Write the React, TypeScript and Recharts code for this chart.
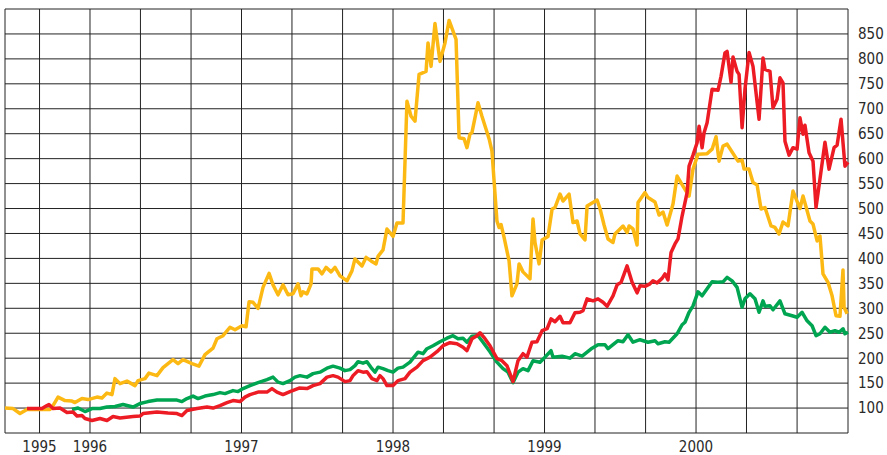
import { CartesianGrid, Line, LineChart, XAxis, YAxis } from 'recharts';

// x = decimal year, y = index value
const goldYears = [
  1995.439, 1995.492, 1995.538, 1995.584, 1995.736, 1995.756, 1995.789, 1995.835, 1995.881, 1995.901,
  1995.947, 1995.987, 1996.046, 1996.079, 1996.112, 1996.145, 1996.165, 1996.198, 1996.244, 1996.297,
  1996.317, 1996.363, 1996.389, 1996.442, 1996.482, 1996.548, 1996.581, 1996.614, 1996.673, 1996.719,
  1996.759, 1996.812, 1996.838, 1996.878, 1996.924, 1996.957, 1997.003, 1997.03, 1997.05, 1997.076,
  1997.109, 1997.142, 1997.182, 1997.208, 1997.241, 1997.274, 1997.307, 1997.34, 1997.373, 1997.393,
  1997.406, 1997.432, 1997.459, 1997.465, 1997.505, 1997.531, 1997.558, 1997.591, 1997.617, 1997.65,
  1997.696, 1997.729, 1997.749, 1997.795, 1997.822, 1997.855, 1997.888, 1997.901, 1997.934, 1997.96,
  1998.0, 1998.026, 1998.066, 1998.092, 1998.119, 1998.145, 1998.172, 1998.218, 1998.231, 1998.251,
  1998.277, 1998.31, 1998.343, 1998.37, 1998.416, 1998.436, 1998.469, 1998.488, 1998.508, 1998.521,
  1998.561, 1998.587, 1998.634, 1998.653, 1998.686, 1998.7, 1998.713, 1998.733, 1998.766, 1998.785,
  1998.818, 1998.832, 1998.858, 1998.904, 1998.924, 1998.937, 1998.964, 1998.984, 1999.023, 1999.05,
  1999.069, 1999.102, 1999.122, 1999.162, 1999.188, 1999.215, 1999.234, 1999.267, 1999.281, 1999.347,
  1999.366, 1999.393, 1999.419, 1999.452, 1999.465, 1999.518, 1999.545, 1999.558, 1999.584, 1999.611,
  1999.617, 1999.663, 1999.683, 1999.729, 1999.756, 1999.782, 1999.809, 1999.848, 1999.875, 1999.914,
  1999.954, 1999.98, 2000.013, 2000.073, 2000.106, 2000.132, 2000.152, 2000.178, 2000.205, 2000.277,
  2000.304, 2000.317, 2000.35, 2000.376, 2000.403, 2000.429, 2000.455, 2000.495, 2000.521, 2000.548,
  2000.574, 2000.607, 2000.64, 2000.686, 2000.706, 2000.752, 2000.772, 2000.799, 2000.818, 2000.838,
  2000.871, 2000.898, 2000.924, 2000.95, 2000.97, 2000.977, 2000.997,
];
const goldValues = [
  100, 99, 89, 97, 97, 105, 122, 115, 114, 111,
  119, 117, 122, 120, 130, 127, 159, 149, 154, 145,
  155, 159, 170, 165, 181, 197, 189, 197, 189, 184,
  207, 220, 239, 245, 262, 257, 265, 263, 313, 312,
  300, 342, 370, 347, 327, 347, 327, 329, 349, 325,
  333, 329, 349, 379, 379, 369, 382, 373, 382, 365,
  355, 375, 399, 385, 402, 395, 389, 404, 417, 459,
  444, 471, 471, 715, 685, 675, 769, 775, 832, 785,
  871, 795, 832, 877, 839, 642, 640, 622, 649, 652,
  712, 685, 640, 615, 475, 462, 468, 442, 395, 325,
  349, 389, 373, 359, 479, 432, 389, 437, 444, 499,
  502, 529, 515, 529, 472, 475, 449, 437, 505, 517,
  500, 467, 439, 432, 449, 465, 452, 465, 459, 427,
  512, 532, 522, 513, 487, 493, 467, 509, 565, 545,
  525, 579, 609, 610, 619, 644, 595, 625, 629, 595,
  597, 579, 579, 552, 547, 499, 502, 465, 462, 449,
  473, 465, 535, 500, 525, 475, 469, 435, 445, 369,
  352, 325, 285, 284, 377, 302, 289,
];

const redYears = [
  1995.584, 1995.683, 1995.716, 1995.729, 1995.756, 1995.802, 1995.848, 1995.888, 1995.914, 1995.947,
  1995.967, 1996.013, 1996.066, 1996.112, 1996.152, 1996.198, 1996.284, 1996.33, 1996.35, 1996.442,
  1996.515, 1996.574, 1996.607, 1996.64, 1996.706, 1996.772, 1996.812, 1996.858, 1996.904, 1996.944,
  1996.99, 1997.023, 1997.056, 1997.109, 1997.168, 1997.201, 1997.234, 1997.274, 1997.32, 1997.38,
  1997.432, 1997.472, 1997.518, 1997.564, 1997.604, 1997.637, 1997.683, 1997.716, 1997.736, 1997.769,
  1997.802, 1997.828, 1997.861, 1997.894, 1997.914, 1997.934, 1997.96, 1998.0, 1998.033, 1998.079,
  1998.112, 1998.158, 1998.198, 1998.244, 1998.29, 1998.33, 1998.376, 1998.422, 1998.462, 1998.488,
  1998.521, 1998.554, 1998.574, 1998.607, 1998.64, 1998.686, 1998.719, 1998.752, 1998.792, 1998.825,
  1998.858, 1998.884, 1998.917, 1998.95, 1998.984, 1999.017, 1999.043, 1999.069, 1999.102, 1999.122,
  1999.168, 1999.201, 1999.234, 1999.254, 1999.281, 1999.32, 1999.353, 1999.386, 1999.413, 1999.452,
  1999.479, 1999.505, 1999.545, 1999.578, 1999.611, 1999.63, 1999.663, 1999.696, 1999.716, 1999.743,
  1999.776, 1999.795, 1999.815, 1999.835, 1999.861, 1999.881, 1999.908, 1999.941, 1999.954, 1999.98,
  2000.007, 2000.02, 2000.04, 2000.053, 2000.073, 2000.106, 2000.145, 2000.165, 2000.191, 2000.205,
  2000.231, 2000.244, 2000.271, 2000.284, 2000.304, 2000.323, 2000.35, 2000.376, 2000.416, 2000.442,
  2000.455, 2000.488, 2000.508, 2000.535, 2000.554, 2000.574, 2000.587, 2000.614, 2000.64, 2000.667,
  2000.686, 2000.706, 2000.719, 2000.746, 2000.772, 2000.792, 2000.818, 2000.851, 2000.878, 2000.911,
  2000.931, 2000.957, 2000.983, 2001.003,
];
const redValues = [
  99, 99, 105, 107, 99, 100, 91, 92, 84, 85,
  79, 75, 79, 75, 83, 80, 83, 84, 89, 92,
  90, 89, 85, 95, 99, 102, 100, 105, 111, 115,
  113, 122, 127, 132, 132, 139, 132, 127, 133, 140,
  139, 145, 149, 162, 165, 162, 153, 155, 165, 175,
  172, 173, 159, 155, 165, 159, 145, 145, 155, 159,
  172, 182, 195, 202, 213, 225, 231, 229, 222, 215,
  239, 245, 251, 239, 225, 199, 195, 185, 153, 195,
  209, 202, 232, 233, 255, 259, 279, 273, 284, 271,
  271, 291, 292, 295, 319, 315, 319, 312, 304, 325,
  347, 352, 385, 352, 331, 345, 344, 349, 355, 351,
  360, 369, 357, 412, 429, 439, 485, 532, 585, 607,
  632, 665, 622, 652, 672, 739, 737, 765, 812, 815,
  753, 804, 775, 769, 662, 739, 813, 785, 679, 802,
  779, 775, 702, 719, 762, 752, 635, 607, 622, 619,
  682, 649, 667, 612, 595, 502, 559, 633, 579, 622,
  627, 679, 585, 593,
];

const greenYears = [
  1995.881, 1995.921, 1995.967, 1996.013, 1996.066, 1996.112, 1996.165, 1996.218, 1996.284, 1996.33,
  1996.383, 1996.442, 1996.574, 1996.607, 1996.64, 1996.68, 1996.713, 1996.759, 1996.812, 1996.858,
  1996.891, 1996.944, 1996.977, 1997.01, 1997.056, 1997.109, 1997.168, 1997.208, 1997.241, 1997.274,
  1997.32, 1997.353, 1997.386, 1997.432, 1997.472, 1997.518, 1997.564, 1997.604, 1997.65, 1997.683,
  1997.716, 1997.749, 1997.769, 1997.802, 1997.828, 1997.861, 1997.881, 1997.901, 1997.934, 1997.967,
  1998.0, 1998.033, 1998.066, 1998.112, 1998.165, 1998.198, 1998.224, 1998.264, 1998.31, 1998.356,
  1998.396, 1998.429, 1998.462, 1998.488, 1998.521, 1998.561, 1998.594, 1998.64, 1998.686, 1998.726,
  1998.759, 1998.792, 1998.825, 1998.858, 1998.891, 1998.924, 1998.97, 1999.003, 1999.043, 1999.056,
  1999.116, 1999.168, 1999.201, 1999.248, 1999.314, 1999.353, 1999.399, 1999.419, 1999.485, 1999.518,
  1999.551, 1999.584, 1999.63, 1999.683, 1999.729, 1999.749, 1999.795, 1999.822, 1999.875, 1999.908,
  1999.927, 1999.954, 1999.98, 2000.013, 2000.04, 2000.073, 2000.106, 2000.145, 2000.178, 2000.205,
  2000.238, 2000.271, 2000.304, 2000.323, 2000.356, 2000.389, 2000.416, 2000.442, 2000.455, 2000.488,
  2000.508, 2000.554, 2000.587, 2000.634, 2000.667, 2000.7, 2000.733, 2000.766, 2000.792, 2000.818,
  2000.851, 2000.884, 2000.917, 2000.944, 2000.97, 2000.983, 2001.003,
];
const greenValues = [
  97, 100, 93, 99, 99, 102, 103, 107, 102, 109,
  113, 116, 116, 113, 119, 124, 119, 124, 127, 131,
  129, 135, 133, 139, 145, 151, 157, 162, 152, 149,
  155, 162, 165, 162, 169, 172, 180, 184, 180, 175,
  177, 185, 193, 190, 193, 179, 172, 182, 179, 175,
  172, 180, 182, 192, 212, 209, 219, 225, 233, 240,
  245, 239, 240, 232, 244, 245, 232, 213, 192, 179,
  172, 151, 172, 179, 175, 195, 192, 202, 215, 202,
  204, 200, 209, 204, 220, 227, 227, 219, 235, 233,
  247, 232, 237, 232, 235, 229, 233, 232, 249, 267,
  272, 292, 305, 333, 325, 339, 353, 352, 353, 362,
  355, 342, 302, 319, 329, 319, 292, 315, 304, 305,
  297, 315, 289, 285, 282, 292, 275, 265, 245, 249,
  262, 252, 255, 252, 259, 249, 252,
];

const xTicks = [
  1995.667, 1996, 1996.333, 1996.667, 1997, 1997.333, 1997.667, 1998,
  1998.333, 1998.667, 1999, 1999.333, 1999.667, 2000, 2000.333, 2000.667,
];
const xTickLabels = ['1995', '1996', '', '', '1997', '', '', '1998', '', '', '1999', '', '', '2000', '', ''];
const yTicks = [50, 100, 150, 200, 250, 300, 350, 400, 450, 500, 550, 600, 650, 700, 750, 800, 850, 900];

const toRows = (xs: number[], vs: number[]) => xs.map((t, i) => ({ t, v: vs[i] }));
const gold = toRows(goldYears, goldValues);
const red = toRows(redYears, redValues);
const green = toRows(greenYears, greenValues);

const font = '"Liberation Sans Narrow", "DejaVu Sans Condensed", "Roboto Condensed", sans-serif';

export default function App() {
  return (
    <div style={{ position: 'absolute', left: 0, top: 0, background: '#fff' }}>
      <LineChart width={887} height={455} margin={{ top: 9, right: 0, bottom: 0, left: 5 }}>
        <CartesianGrid stroke="#222" strokeWidth={1} />
        <XAxis
          dataKey="t"
          type="number"
          domain={['dataMin', 'dataMax']}
          ticks={xTicks}
          interval={0}
          tickFormatter={(_v: number, i: number) => xTickLabels[i]}
          axisLine={false}
          tickLine={false}
          height={22}
          tick={{ fill: '#2a2a2a', fontSize: 15, fontFamily: font }}
          allowDuplicatedCategory={false}
        />
        <YAxis
          orientation="right"
          type="number"
          domain={[50, 900]}
          ticks={yTicks}
          interval={0}
          tickFormatter={(v: number) => (v === 50 || v === 900 ? '' : String(v))}
          axisLine={false}
          tickLine={false}
          tickMargin={4}
          width={39}
          tick={{ fill: '#2a2a2a', fontSize: 15, fontFamily: font, textAnchor: 'start' }}
        />
        <Line data={green} dataKey="v" stroke="#00a551" strokeWidth={3.5} dot={false} isAnimationActive={false} strokeLinejoin="round" />
        <Line data={gold} dataKey="v" stroke="#fdb913" strokeWidth={3.5} dot={false} isAnimationActive={false} strokeLinejoin="round" />
        <Line data={red} dataKey="v" stroke="#ed1c24" strokeWidth={3.5} dot={false} isAnimationActive={false} strokeLinejoin="round" />
      </LineChart>
    </div>
  );
}
